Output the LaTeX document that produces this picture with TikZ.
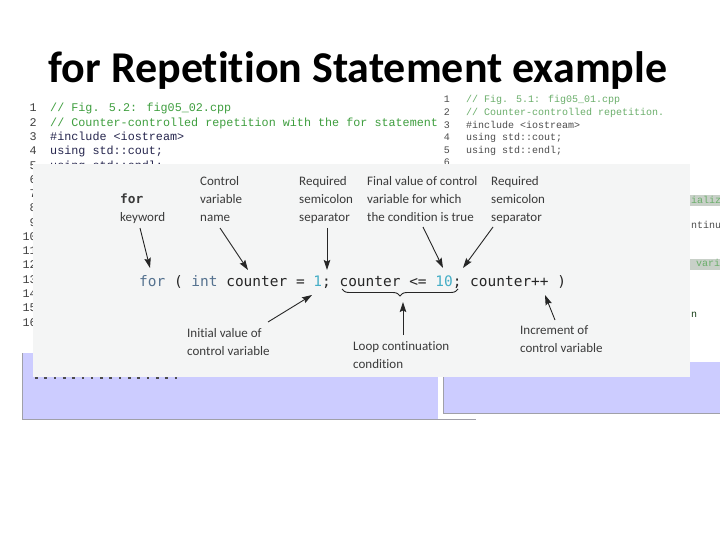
\documentclass[tikz,border=0pt]{standalone}
\usepackage{fontspec}
\setmainfont{Carlito}[Ligatures={TeX,NoCommon}]
\newfontfamily\codefont{DejaVu Sans Mono}
\newfontfamily\scrfont{Liberation Mono}
\usetikzlibrary{arrows.meta,decorations.pathreplacing}
\definecolor{lav}{HTML}{CCCCFF}
\definecolor{ovl}{HTML}{F4F5F5}
\definecolor{cmt}{HTML}{3E9E3E}
\definecolor{cmtb}{HTML}{6AAE6A}
\definecolor{kw}{HTML}{55728F}
\definecolor{num}{HTML}{45AEC6}
\definecolor{lbl}{HTML}{3A3A3A}
\definecolor{bord}{HTML}{A0A0A8}
\definecolor{hil}{HTML}{C8D0C8}
\definecolor{inc}{HTML}{26264E}
\tikzset{
  lbl/.style={inner sep=0pt, anchor=north west, align=left, text=lbl, font=\fontsize{13}{18}\selectfont},
  lcode/.style={inner sep=0pt, anchor=base west, font=\scrfont\fontsize{11.75}{14}\selectfont},
  lnum/.style={inner sep=0pt, anchor=base east, text=black!75, font=\scrfont\fontsize{11.75}{14}\selectfont},
  rcode/.style={inner sep=0pt, anchor=base west, font=\scrfont\fontsize{10}{12}\selectfont},
  rnum/.style={inner sep=0pt, anchor=base east, text=black!70, font=\scrfont\fontsize{10}{12}\selectfont},
  arr/.style={draw=black!85, line width=0.9pt, -{Stealth[length=10pt,width=6.5pt,inset=1.5pt]}},
}
\begin{document}
\begin{tikzpicture}[x=1pt,y=-1pt]
\useasboundingbox[fill=white] (0,0) rectangle (720,540);
% title
\node[inner sep=0pt, anchor=base, font=\bfseries\fontsize{44}{50}\selectfont] (title) at (358,83) {for Repetition Statement example};
% left screenshot
\foreach \i in {1,...,16} {
  \node[lnum] (ln\i) at (37,{112+14.27*(\i-1)}) {\i};
}
\node[lcode, text=cmt] (l1) at (50,112) {// Fig. 5.2: fig05\_02.cpp};
\node[lcode, text=cmt] (l2) at (50,126.27) {// Counter-controlled repetition with the for statement};
\node[lcode, text=inc] (l3) at (50,140.54) {\#include <iostream>};
\node[lcode, text=inc] (l4) at (50,154.81) {using std::cout;};
\node[lcode, text=inc] (l5) at (50,170) {using std::endl;};
% left lavender
\fill[lav] (22,353) rectangle (438,419);
\draw[bord, line width=0.8pt] (22,353) -- (22,419) -- (476,419);
\foreach \i in {0,...,15} { \fill[black!70] ({35+\i*9.3},377) rectangle +(2.6,1.8); }
% right screenshot
\foreach \i in {1,...,6} {
  \node[rnum] (rn\i) at (450,{103+12.6*(\i-1)}) {\i};
}
\node[rcode, text=cmtb] (r1) at (466,103) {// Fig. 5.1: fig05\_01.cpp};
\node[rcode, text=cmtb] (r2) at (466,115.6) {// Counter-controlled repetition.};
\node[rcode, text=black!70] (r3) at (466,128.2) {\#include <iostream>};
\node[rcode, text=black!70] (r4) at (466,140.8) {using std::cout;};
\node[rcode, text=black!70] (r5) at (466,153.4) {using std::endl;};
\fill[hil] (689,195) rectangle (720,206);
\node[rcode, text=cmtb] (f1) at (691,203.8) {ializ};
\node[rcode, text=black!70] (f2) at (691,229) {ntinu};
\fill[hil] (689,259) rectangle (720,270);
\node[rcode, text=cmtb] (f3) at (696,266.8) {vari};
\node[rcode, text=black!60!cmt] (f4) at (691,317.2) {n};
% right lavender
\fill[lav] (443,362) rectangle (720,413);
\draw[bord, line width=0.8pt] (443,362) -- (443,413) -- (720,413);
% overlay figure
\fill[ovl] (33,164) rectangle (690,377);
\node[inner sep=0pt, anchor=base west, font=\codefont\fontsize{14.47}{16}\selectfont, text=black!85] (code) at (139,286)
  {\textcolor{kw}{for} ( \textcolor{kw}{int} counter = \textcolor{num}{1}; counter <= \textcolor{num}{10}; counter++ )};
\node[lbl] (kwl) at (120,194) {{\codefont\bfseries\fontsize{12.8}{18}\selectfont for}\\keyword};
\node[lbl] (cvn) at (200,176) {Control\\variable\\name};
\node[lbl] (rs1) at (299,176) {Required\\semicolon\\separator};
\node[lbl] (fin) at (367,176) {Final value of control\\variable for which\\the condition is true};
\node[lbl] (rs2) at (491,176) {Required\\semicolon\\separator};
\node[lbl] (ini) at (187,328) {Initial value of\\control variable};
\node[lbl] (lcc) at (353,341) {Loop continuation\\condition};
\node[lbl] (icv) at (520,325) {Increment of\\control variable};
% connector ends
\coordinate (kwS) at (140,228); \coordinate (kwT) at (150,268);
\coordinate (cvS) at (220,228); \coordinate (cvT) at (248,270);
\coordinate (s1S) at (327,228); \coordinate (s1T) at (327,270);
\coordinate (fiS) at (423,227); \coordinate (fiT) at (443,268);
\coordinate (s2S) at (493,227); \coordinate (s2T) at (463,268);
\coordinate (inS) at (268,322); \coordinate (inT) at (312,295);
\coordinate (lcS) at (403,335); \coordinate (lcT) at (403,302);
\coordinate (icS) at (555,320); \coordinate (icT) at (545,295);
\coordinate (brL) at (342,289); \coordinate (brR) at (458,289);
\draw[arr] (kwS) -- (kwT);
\draw[arr] (cvS) -- (cvT);
\draw[arr] (s1S) -- (s1T);
\draw[arr] (fiS) -- (fiT);
\draw[arr] (s2S) -- (s2T);
\draw[arr] (inS) -- (inT);
\draw[arr] (lcS) -- (lcT);
\draw[arr] (icS) -- (icT);
\draw[black!85, line width=0.9pt, decorate, decoration={brace, amplitude=7pt, mirror}] (brL) -- (brR);
\end{tikzpicture}
\end{document}
